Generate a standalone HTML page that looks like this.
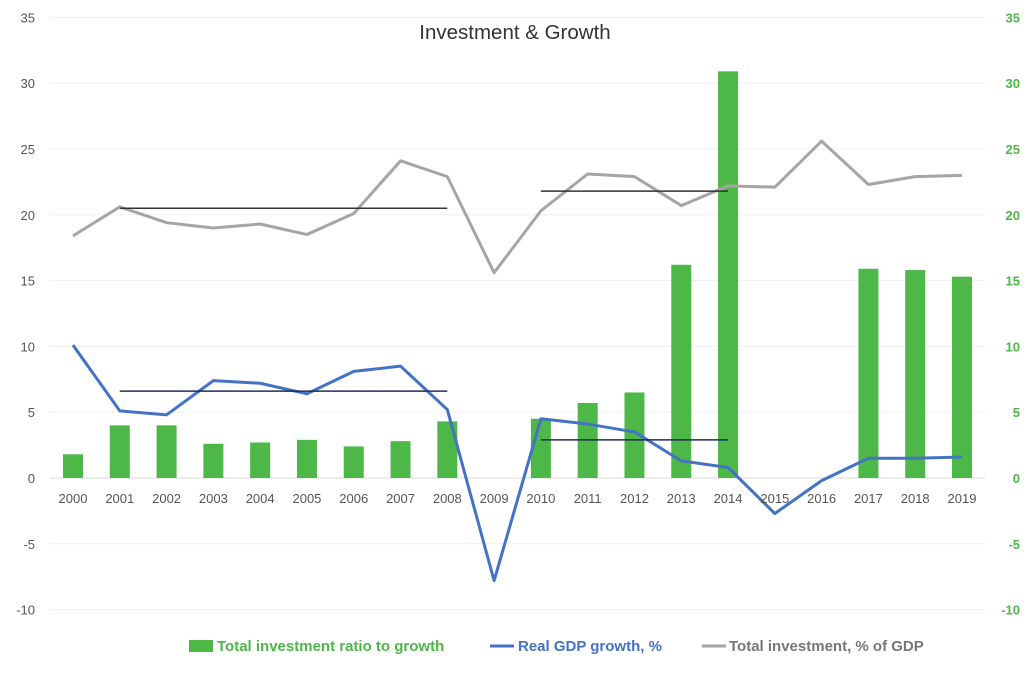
<!DOCTYPE html>
<html><head><meta charset="utf-8"><style>
body{margin:0;background:#fff;font-family:"Liberation Sans",sans-serif}
svg text{font-family:"Liberation Sans",sans-serif}
</style></head><body>
<svg id="chart" width="1030" height="673">
<rect width="1030" height="673" fill="#fff"/>
<text x="515" y="39" text-anchor="middle" font-size="20.5" fill="#333">Investment &amp; Growth</text>
<g id="grid"></g><g id="bars"></g><g id="lines"></g><g id="labels"></g>
<g>
<rect x="189" y="640" width="24" height="12" fill="#4db848"/>
<text x="217" y="651" font-size="15" font-weight="bold" fill="#4db848">Total investment ratio to growth</text>
<line x1="490" y1="646" x2="514" y2="646" stroke="#4472c4" stroke-width="3"/>
<text x="518" y="651" font-size="15" font-weight="bold" fill="#4472c4">Real GDP growth, %</text>
<line x1="702" y1="646" x2="726" y2="646" stroke="#a5a5a5" stroke-width="3"/>
<text x="729" y="651" font-size="15" font-weight="bold" fill="#777">Total investment, % of GDP</text>
</g>
</svg>
<script>
const years=[2000,2001,2002,2003,2004,2005,2006,2007,2008,2009,2010,2011,2012,2013,2014,2015,2016,2017,2018,2019];
const ratio=[1.8,4.0,4.0,2.6,2.7,2.9,2.4,2.8,4.3,null,4.5,5.7,6.5,16.2,30.9,null,null,15.9,15.8,15.3];
const gdp=[10.1,5.1,4.8,7.4,7.2,6.4,8.1,8.5,5.2,-7.8,4.5,4.1,3.5,1.3,0.8,-2.7,-0.2,1.5,1.5,1.6];
const invest=[18.4,20.6,19.4,19.0,19.3,18.5,20.1,24.1,22.9,15.6,20.3,23.1,22.9,20.7,22.2,22.1,25.6,22.3,22.9,23.0];
const ticks=[-10,-5,0,5,10,15,20,25,30,35];
const avgInvest=[[2001,2008,20.5],[2010,2014,21.8]];
const avgGdp=[[2001,2008,6.6],[2010,2014,2.9]];
const NS="http://www.w3.org/2000/svg";
const x=yr=>73+(yr-2000)*(889/19);
const y=v=>478-v*13.16;
function mk(tag,attrs,parent,txt){const e=document.createElementNS(NS,tag);for(const k in attrs)e.setAttribute(k,attrs[k]);if(txt!=null)e.textContent=txt;document.getElementById(parent).appendChild(e);return e;}
ticks.forEach(t=>{
 const g=mk('line',{x1:50,x2:985,y1:y(t),y2:y(t),stroke:t===0?'#d9d9d9':'#efefef','stroke-width':1},'grid');
 
 
 const l=mk('text',{x:35,y:y(t)+5,'text-anchor':'end','font-size':13,fill:'#555'},'labels',t);
 
 
 const r=mk('text',{x:1020,y:y(t)+5,'text-anchor':'end','font-size':13,'font-weight':'bold',fill:'#4db848'},'labels',t);
 
 
});
years.forEach((yr,i)=>{
 const t=mk('text',{x:x(yr),y:y(0)+25,'text-anchor':'middle','font-size':13,fill:'#555'},'labels',yr);
 
 
 if(ratio[i]!=null){
  const b=mk('rect',{x:x(yr)-10,y:y(ratio[i]),width:20,height:y(0)-y(ratio[i]),fill:'#4db848'},'bars');
  
  
 }
});
function line(vals,color,name){
 const p=mk('polyline',{points:vals.map((v,i)=>x(years[i])+','+y(v)).join(' '),fill:'none',stroke:color,'stroke-width':3,'stroke-linejoin':'round'},'lines');
 
 
}
line(invest,'#a5a5a5','investment-line');
line(gdp,'#4472c4','gdp-growth-line');
avgInvest.forEach(a=>{const l=mk('line',{x1:x(a[0]),x2:x(a[1]),y1:y(a[2]),y2:y(a[2]),stroke:'#333','stroke-width':1.5},'lines');
 
 });
avgGdp.forEach(a=>{const l=mk('line',{x1:x(a[0]),x2:x(a[1]),y1:y(a[2]),y2:y(a[2]),stroke:'#1f2d5a','stroke-width':1.5},'lines');
 
 });
</script>
</body></html>
